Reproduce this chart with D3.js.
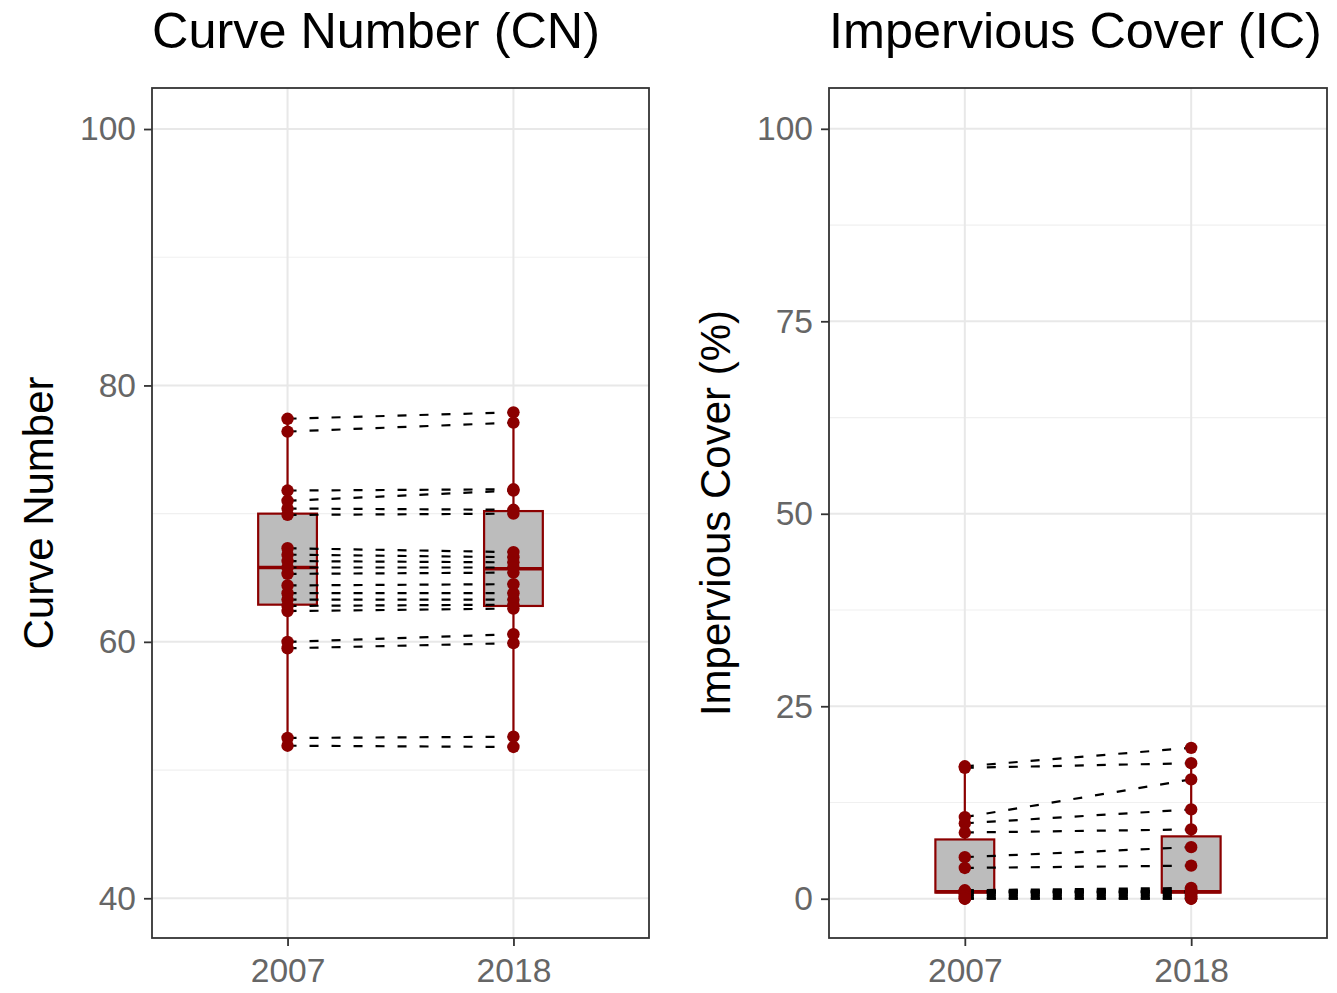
<!DOCTYPE html>
<html>
<head>
<meta charset="utf-8">
<script src="https://cdn.jsdelivr.net/npm/d3@7"></script>
<style>
  body { margin: 0; background: #fff; }
  text { font-family: "Liberation Sans", Arial, sans-serif; }
</style>
</head>
<body>
<script>
'use strict';

// categories
const years = ["2007", "2018"];

// curve number per watershed (paired by index)
const cn2007 = [77.4, 76.4, 71.8, 71.0, 70.4, 69.9, 67.3, 66.8, 66.3, 65.8, 65.3, 64.4, 63.8, 63.3, 62.8, 62.4, 60.0, 59.5, 52.5, 51.9];
const cn2018 = [77.9, 77.1, 71.9, 71.8, 70.3, 70.0, 67.0, 66.6, 66.2, 65.8, 65.4, 64.5, 63.8, 63.3, 62.9, 62.6, 60.6, 59.9, 52.6, 51.8];

// impervious cover (%) per watershed (paired by index)
const ic2007 = [17.2, 17.0, 10.6, 9.8, 8.6, 5.4, 4.0, 1.1, 1.0, 1.0, 0.9, 0.9, 0.8, 0.8, 0.7, 0.5, 0.3, 0.1, 0.0, 0.0];
const ic2018 = [19.6, 17.6, 15.5, 11.6, 9.0, 6.7, 4.3, 1.4, 1.2, 1.0, 1.0, 0.9, 0.9, 0.8, 0.7, 0.5, 0.3, 0.1, 0.0, 0.0];

// box stats [lower whisker, q1, median, q3, upper whisker]
const cnBox = [[51.9, 62.9, 65.8, 70.0, 77.4], [51.8, 62.8, 65.7, 70.2, 77.9]];
const icBox = [[0.0, 0.8, 0.9, 7.7, 17.2], [0.0, 0.8, 0.9, 8.1, 17.6]];

// tick labels
const cnTicks = [40, 60, 80, 100];
const cnMinor = [50, 70, 90];
const icTicks = [0, 25, 50, 75, 100];
const icMinor = [12.5, 37.5, 62.5, 87.5];

const svg = d3.select('body')
  .append('svg')
  .attr('width', 1337)
  .attr('height', 993);

const red = "#8B0000";

drawPanel({
  left: 152, right: 649, top: 88, bottom: 938,
  domain: [36.9, 103.2],
  ticks: cnTicks, minor: cnMinor,
  a: cn2007, b: cn2018, box: cnBox,
  title: "Curve Number (CN)", ytitle: "Curve Number", ytitleX: 53
});

drawPanel({
  left: 829, right: 1327, top: 88, bottom: 938,
  domain: [-5.1, 105.3],
  ticks: icTicks, minor: icMinor,
  a: ic2007, b: ic2018, box: icBox,
  title: "Impervious Cover (IC)", ytitle: "Impervious Cover (%)", ytitleX: 730
});

function drawPanel(p) {
  let x = d3.scalePoint()
    .domain(years)
    .range([p.left, p.right])
    .padding(0.6);

  let y = d3.scaleLinear()
    .domain(p.domain)
    .range([p.bottom, p.top]);

  let g = svg.append('g');

  // minor grid
  g.selectAll('.minor')
    .data(p.minor)
    .enter()
    .append('line')
    .attr('x1', p.left).attr('x2', p.right)
    .attr('y1', d => y(d)).attr('y2', d => y(d))
    .attr('stroke', '#f0f0f0')
    .attr('stroke-width', 1.2);

  // major grid
  g.selectAll('.major')
    .data(p.ticks)
    .enter()
    .append('line')
    .attr('x1', p.left).attr('x2', p.right)
    .attr('y1', d => y(d)).attr('y2', d => y(d))
    .attr('stroke', '#e8e8e8')
    .attr('stroke-width', 2);

  g.selectAll('.vgrid')
    .data(years)
    .enter()
    .append('line')
    .attr('x1', d => x(d)).attr('x2', d => x(d))
    .attr('y1', p.top).attr('y2', p.bottom)
    .attr('stroke', '#e8e8e8')
    .attr('stroke-width', 2);

  // boxes
  let hw = x.step() * 0.13;
  years.forEach((yr, i) => {
    let s = p.box[i];
    let cx = x(yr);
    g.append('line')
      .attr('x1', cx).attr('x2', cx)
      .attr('y1', y(s[0])).attr('y2', y(s[1]))
      .attr('stroke', red).attr('stroke-width', 2.2);
    g.append('line')
      .attr('x1', cx).attr('x2', cx)
      .attr('y1', y(s[3])).attr('y2', y(s[4]))
      .attr('stroke', red).attr('stroke-width', 2.2);
    g.append('rect')
      .attr('x', cx - hw)
      .attr('width', hw * 2)
      .attr('y', y(s[3]))
      .attr('height', y(s[1]) - y(s[3]))
      .attr('fill', '#bcbcbc')
      .attr('stroke', red)
      .attr('stroke-width', 2.2);
    g.append('line')
      .attr('x1', cx - hw).attr('x2', cx + hw)
      .attr('y1', y(s[2])).attr('y2', y(s[2]))
      .attr('stroke', red).attr('stroke-width', 3.5);
  });

  // paired dashed lines
  let pairs = p.a.map((v, i) => [v, p.b[i]]);
  g.selectAll('.pair')
    .data(pairs)
    .enter()
    .append('line')
    .attr('x1', x(years[0])).attr('x2', x(years[1]))
    .attr('y1', d => y(d[0])).attr('y2', d => y(d[1]))
    .attr('stroke', '#000')
    .attr('stroke-width', 2.2)
    .attr('stroke-dasharray', '9,13');

  // points
  years.forEach((yr, i) => {
    let vals = i == 0 ? p.a : p.b;
    g.selectAll('.pt' + i)
      .data(vals)
      .enter()
      .append('circle')
      .attr('cx', x(yr))
      .attr('cy', d => y(d))
      .attr('r', 6.2)
      .attr('fill', red);
  });

  // border
  g.append('rect')
    .attr('x', p.left).attr('y', p.top)
    .attr('width', p.right - p.left)
    .attr('height', p.bottom - p.top)
    .attr('fill', 'none')
    .attr('stroke', '#333')
    .attr('stroke-width', 1.8);

  // axes
  let yAxis = d3.axisLeft(y).tickValues(p.ticks).tickSize(8).tickPadding(8);
  let ya = g.append('g')
    .attr('transform', 'translate(' + p.left + ',0)')
    .call(yAxis);
  let xAxis = d3.axisBottom(x).tickSize(8).tickPadding(12);
  let xa = g.append('g')
    .attr('transform', 'translate(0,' + p.bottom + ')')
    .call(xAxis);
  [ya, xa].forEach(a => {
    a.select('.domain').remove();
    a.selectAll('line').attr('stroke', '#333').attr('stroke-width', 1.8);
    a.selectAll('text')
      .attr('fill', '#666')
      .style('font-size', '33.6px')
      .style('font-family', '"Liberation Sans", Arial, sans-serif');
  });

  // titles
  svg.append('text')
    .attr('x', p.left)
    .attr('y', 48)
    .style('font-size', '50.4px')
    .attr('fill', '#000')
    .text(p.title);

  svg.append('text')
    .attr('transform', 'translate(' + p.ytitleX + ',' + ((p.top + p.bottom) / 2) + ')rotate(-90)')
    .attr('text-anchor', 'middle')
    .style('font-size', '42px')
    .attr('fill', '#000')
    .text(p.ytitle);
}
</script>
</body>
</html>
